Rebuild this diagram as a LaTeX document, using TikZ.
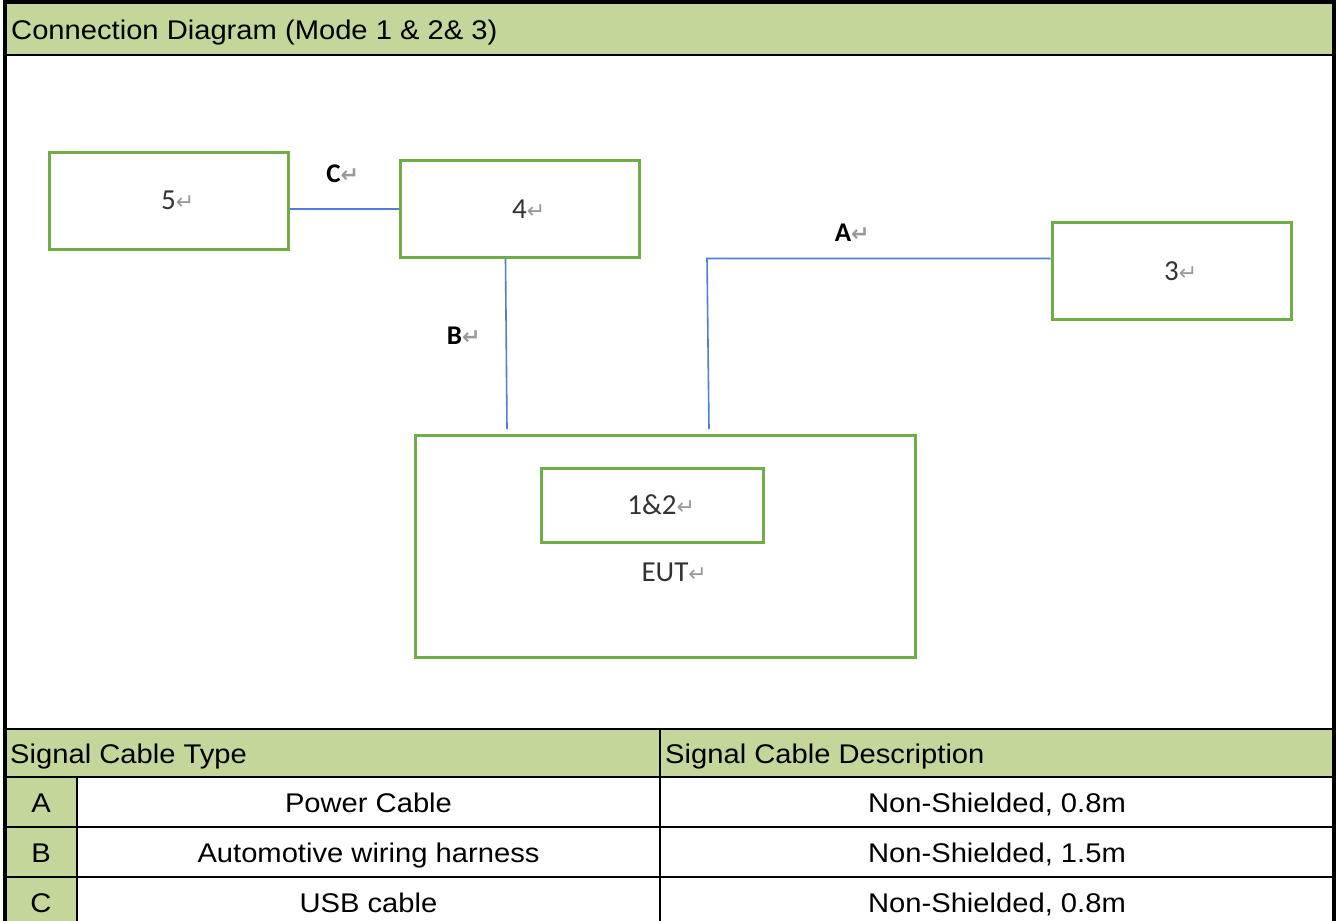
\documentclass[tikz,border=0pt]{standalone}
\usepackage{fontspec}
\setmainfont{Liberation Sans}[FakeStretch=1.08]
\newfontfamily\boxfont{Carlito}
\newfontfamily\markfont{DejaVu Sans}
\definecolor{hdrgreen}{HTML}{C4D79B}
\definecolor{boxgreen}{HTML}{70AD47}
\definecolor{cableblue}{HTML}{4F7FD4}
% paragraph mark that hangs after a label
\newcommand{\parmark}{\rlap{\markfont\fontsize{22}{22}\selectfont\color{black!40}↵}}
\begin{document}
\begin{tikzpicture}[x=1pt,y=-1pt,
    unit/.style={draw=boxgreen,line width=3pt,minimum width=239pt,minimum height=97pt,
      inner sep=0pt,font=\boxfont\fontsize{29}{29}\selectfont,text=black!80},
    cable/.style={draw=cableblue,line width=1.6pt},
    cablelbl/.style={inner sep=0pt,font=\boxfont\bfseries\fontsize{27}{27}\selectfont},
    cell/.style={inner sep=0pt,anchor=base,font=\fontsize{27}{27}\selectfont},
    gridline/.style={line width=2pt}]
\useasboundingbox (0,0) rectangle (1339,921);
% Fill the header bands
        \fill[hdrgreen] (5,2) rectangle (1334,55);
        \fill[hdrgreen] (5,729) rectangle (1334,777);
        \fill[hdrgreen] (5,777) rectangle (77,921);
% Draw the frame and the table rules
        \draw[gridline] (5,55) -- (1334,55);
        \draw[gridline] (5,729) -- (1334,729);
        \draw[gridline] (5,777) -- (1334,777);
        \draw[gridline] (5,827) -- (1334,827);
        \draw[gridline] (5,877) -- (1334,877);
        \draw[gridline] (660,729) -- (660,921);
        \draw[gridline] (77,777) -- (77,921);
        \draw[line width=4pt] (5,921) -- (5,2) -- (1334,2) -- (1334,921);
% Draw the units
        \node[unit] (dev5) at (168.5,200.5) {5\parmark};
        \node[unit] (dev4) at (519.5,209) {4\parmark};
        \node[unit] (dev3) at (1171.5,271) {3\parmark};
        \node[unit,minimum width=500pt,minimum height=222pt] (eut) at (665,546) {};
        \node[unit,minimum width=222pt,minimum height=74pt] (host) at (652,505) {1\&2\parmark};
        \node[inner sep=0pt,font=\boxfont\fontsize{29}{29}\selectfont,text=black!80] (eutlbl) at (eut.center |- 0,572) {EUT\parmark};
% Draw the cables
        \coordinate (bfoot) at (507,429);
        \coordinate (acorner) at (707,258.5);
        \coordinate (afoot) at (709,429);
        \draw[cable] (dev5.east |- dev4.west) -- (dev4.west);
        \draw[cable] ([xshift=-14pt]dev4.south) -- (bfoot);
        \draw[cable] (afoot) -- (acorner) -- ([yshift=12.5pt]dev3.west);
        \node[cablelbl] (lblC) at (333.5,174) {C\parmark};
        \node[cablelbl] (lblB) at (454.5,336) {B\parmark};
        \node[cablelbl] (lblA) at (843,233) {A\parmark};
% Write the table texts
        \node[cell,anchor=base west] (title) at (11,39) {Connection Diagram (Mode 1 \& 2\& 3)};
        \node[cell,anchor=base west] (typehdr) at (10,763) {Signal Cable Type};
        \node[cell,anchor=base west] (deschdr) at (665,763) {Signal Cable Description};
        \node[cell] (tagA) at (41,812) {A};
        \node[cell] (tagB) at (41,862) {B};
        \node[cell] (tagC) at (41,912) {C};
        \node[cell] (kindA) at (368.5,812) {Power Cable};
        \node[cell] (kindB) at (368.5,862) {Automotive wiring harness};
        \node[cell] (kindC) at (368.5,912) {USB cable};
        \node[cell] (descA) at (997,812) {Non-Shielded, 0.8m};
        \node[cell] (descB) at (997,862) {Non-Shielded, 1.5m};
        \node[cell] (descC) at (997,912) {Non-Shielded, 0.8m};
\end{tikzpicture}
\end{document}
